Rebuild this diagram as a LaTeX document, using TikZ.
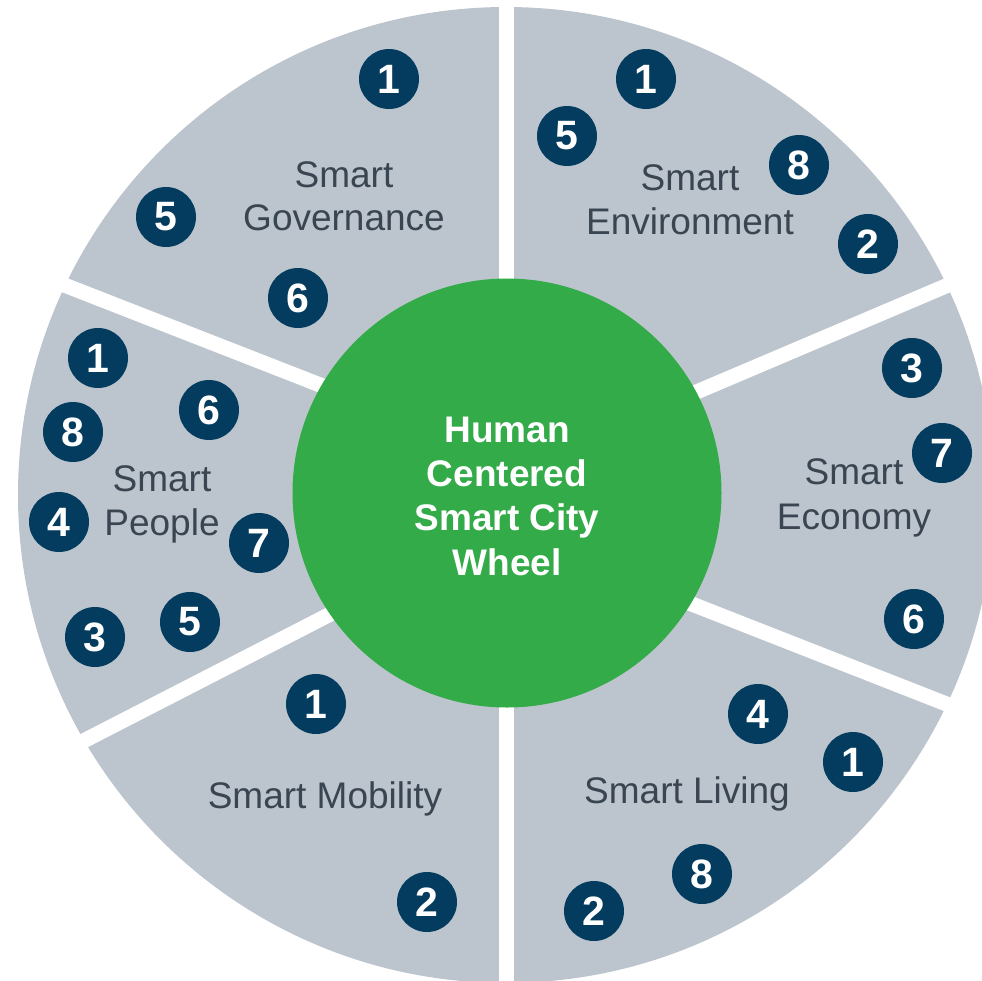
\documentclass[tikz,border=0pt]{standalone}
\usepackage{fontspec}
\setmainfont{Liberation Sans}
\definecolor{wheelgray}{HTML}{BCC5CD}
\definecolor{navy}{HTML}{033C5E}
\definecolor{hubgreen}{HTML}{32AB48}
\definecolor{labeltext}{HTML}{3A4552}
\begin{document}
\begin{tikzpicture}[x=1pt,y=-1pt,
  badge/.style={circle,fill=navy,text=white,minimum size=60pt,inner sep=0pt,
    font=\fontsize{41}{41}\selectfont\bfseries},
  lbl/.style={text=labeltext,anchor=base,inner sep=0pt,font=\fontsize{37}{43}\selectfont},
  hubtext/.style={text=white,anchor=base,inner sep=0pt,font=\fontsize{37}{44}\selectfont\bfseries},
  gapline/.style={white,line width=15pt}]
\useasboundingbox (0,0) rectangle (982,980);
\begin{scope}
\clip (0,0) rectangle (982,980);
\fill[wheelgray] (506,495) circle (488pt);
% gap end points
\coordinate (gT1) at (506,-10);  \coordinate (gT2) at (506,400);
\coordinate (gB1) at (506,600);  \coordinate (gB2) at (506,1000);
\coordinate (gGP1) at (-10,256); \coordinate (gGP2) at (420,424);
\coordinate (gEE1) at (1000,263); \coordinate (gEE2) at (600,433);
\coordinate (gEL1) at (600,568); \coordinate (gEL2) at (1000,725);
\coordinate (gPM1) at (-10,789); \coordinate (gPM2) at (420,568);
\draw[gapline] (gT1) -- (gT2);
\draw[gapline] (gB1) -- (gB2);
\draw[gapline] (gGP1) -- (gGP2);
\draw[gapline] (gEE1) -- (gEE2);
\draw[gapline] (gEL1) -- (gEL2);
\draw[gapline] (gPM1) -- (gPM2);
\end{scope}
% hub
\node[circle,fill=hubgreen,minimum size=429pt,inner sep=0pt] (hub) at (507,493) {};
\node[hubtext] (h1) at (507,442) {Human};
\node[hubtext] (h2) at (507,486) {Centered};
\node[hubtext] (h3) at (507,530) {Smart City};
\node[hubtext] (h4) at (507,575) {Wheel};
% Governance
\node[lbl] (gov1) at (344,187) {Smart};
\node[lbl] (gov2) at (344,230) {Governance};
\node[badge] (gb1) at (389,79) {1};
\node[badge] (gb5) at (166,217) {5};
\node[badge] (gb6) at (298,298) {6};
% Environment
\node[lbl] (env1) at (690,190) {Smart};
\node[lbl] (env2) at (690,234) {Environment};
\node[badge] (eb1) at (646,79) {1};
\node[badge] (eb5) at (567,136) {5};
\node[badge] (eb8) at (799,165) {8};
\node[badge] (eb2) at (868,244) {2};
% Economy
\node[lbl] (eco1) at (854,484) {Smart};
\node[lbl] (eco2) at (854,529) {Economy};
\node[badge] (cb3) at (912,368) {3};
\node[badge] (cb7) at (942,453) {7};
\node[badge] (cb6) at (914,619) {6};
% Living
\node[lbl] (liv) at (687,803) {Smart Living};
\node[badge] (lb4) at (758,714) {4};
\node[badge] (lb1) at (853,762) {1};
\node[badge] (lb8) at (702,874) {8};
\node[badge] (lb2) at (594,911) {2};
% Mobility
\node[lbl] (mob) at (325,808) {Smart Mobility};
\node[badge] (mb1) at (316,704) {1};
\node[badge] (mb2) at (427,902) {2};
% People
\node[lbl] (peo1) at (162,491) {Smart};
\node[lbl] (peo2) at (162,535) {People};
\node[badge] (pb1) at (98,358) {1};
\node[badge] (pb6) at (209,410) {6};
\node[badge] (pb8) at (73,432) {8};
\node[badge] (pb4) at (59,522) {4};
\node[badge] (pb7) at (259,543) {7};
\node[badge] (pb5) at (190,622) {5};
\node[badge] (pb3) at (95,637) {3};
\end{tikzpicture}
\end{document}
